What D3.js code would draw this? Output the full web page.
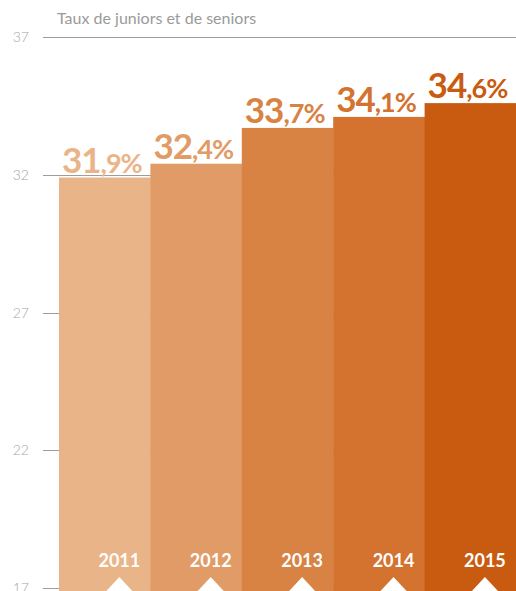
<!DOCTYPE html>
<html>
<head>
<meta charset="utf-8">
<script src="https://cdn.jsdelivr.net/npm/d3@7"></script>
<style>
  body { margin: 0; background: #fff; }
  svg { display: block; }
</style>
</head>
<body>
<div id="chart"></div>
<script>
// données
const title = "Taux de juniors et de seniors";
const years = ["2011", "2012", "2013", "2014", "2015"];
const rates = [31.9, 32.4, 33.7, 34.1, 34.6];
const barColors = ["#eab489", "#e19b66", "#d88244", "#d3732f", "#c95b10"];
const yTicks = [17, 22, 27, 32, 37];

const width = 516, height = 591;
const margin = {top: 37, right: 0, bottom: 3, left: 59};

const svg = d3.select("#chart").append("svg")
    .attr("width", width)
    .attr("height", height);

const x = d3.scaleBand()
    .domain(years)
    .range([margin.left, width - margin.right])
    .padding(0);

const y = d3.scaleLinear()
    .domain([17, 37])
    .range([height - margin.bottom, margin.top]);

// titre
svg.append("text")
    .attr("x", 57)
    .attr("y", 24)
    .attr("font-family", "Lato, sans-serif")
    .attr("font-weight", 400)
    .attr("font-size", 16)
    .attr("fill", "#9a9a9a")
    .text(title);

// lignes de grille (derrière les barres)
svg.append("g")
    .selectAll("line")
    .data(yTicks)
    .enter()
    .append("line")
        .attr("x1", 43)
        .attr("x2", width)
        .attr("y1", d => Math.round(y(d)) + 0.5)
        .attr("y2", d => Math.round(y(d)) + 0.5)
        .attr("stroke", "#9d9d9d")
        .attr("stroke-width", 1);

// étiquettes de l'axe y
svg.append("g")
    .selectAll("text")
    .data(yTicks)
    .enter()
    .append("text")
        .attr("x", 29)
        .attr("y", d => y(d) + 5)
        .attr("text-anchor", "end")
        .attr("font-family", "Lato, sans-serif")
        .attr("font-weight", 300)
        .attr("font-size", 14)
        .attr("fill", "#a5a5a5")
        .text(d => d);

// barres
svg.append("g")
    .selectAll("rect")
    .data(rates)
    .enter()
    .append("rect")
        .attr("x", (d, i) => x(years[i]))
        .attr("width", x.bandwidth() + 0.5)
        .attr("y", d => y(d))
        .attr("height", d => height - y(d))
        .attr("fill", (d, i) => barColors[i]);

// valeurs au-dessus des barres
const labels = svg.append("g")
    .selectAll("text")
    .data(rates)
    .enter()
    .append("text")
        .attr("x", (d, i) => x(years[i]) + 3)
        .attr("y", d => y(d) - 5)
        .attr("font-family", "Lato, sans-serif")
        .attr("font-weight", 700)
        .attr("letter-spacing", -1)
        .attr("fill", (d, i) => barColors[i]);

labels.append("tspan")
    .attr("font-size", 35)
    .text(d => Math.floor(d));

labels.append("tspan")
    .attr("font-size", 27)
    .text(d => "," + Math.round((d % 1) * 10) + "%");

// années + petits triangles
const cx = yr => x(yr) + x.bandwidth() * 0.66;

svg.append("g")
    .selectAll("text")
    .data(years)
    .enter()
    .append("text")
        .attr("x", d => cx(d))
        .attr("y", 567)
        .attr("text-anchor", "middle")
        .attr("font-family", "Lato, sans-serif")
        .attr("font-weight", 700)
        .attr("font-size", 18)
        .attr("fill", "#fff")
        .text(d => d);

svg.append("g")
    .selectAll("path")
    .data(years)
    .enter()
    .append("path")
        .attr("d", d => {
            const c = cx(d);
            return `M${c - 13},${height} L${c},${height - 14} L${c + 13},${height} Z`;
        })
        .attr("fill", "#fff");
</script>
</body>
</html>
